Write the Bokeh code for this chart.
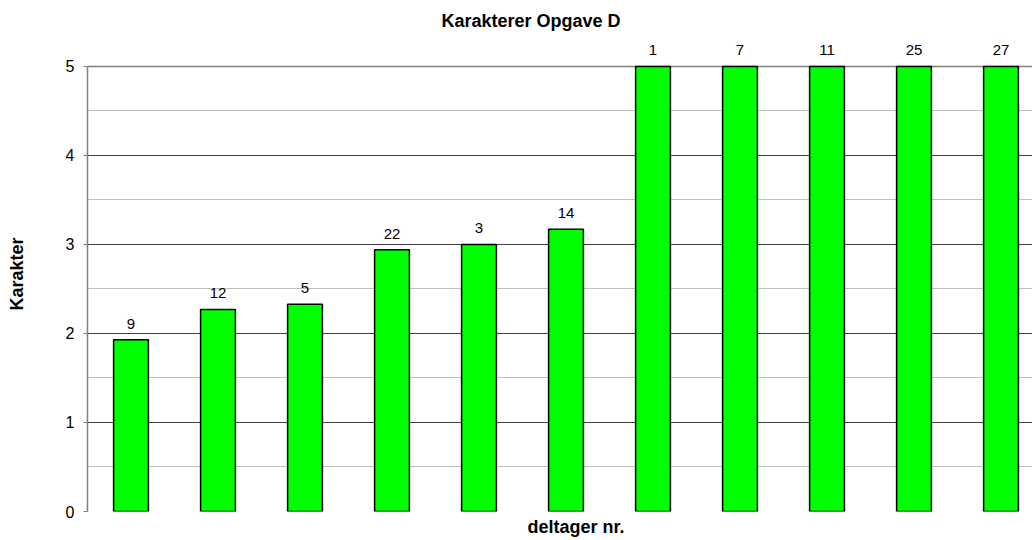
import numpy as np
from bokeh.plotting import figure
from bokeh.models import (ColumnDataSource, Range1d, FixedTicker, Grid, Title)
from bokeh.core.properties import value
from bokeh.embed import file_html
from bokeh.resources import INLINE

participants = ["9", "12", "5", "22", "3", "14", "1", "7", "11", "25", "27"]
grades = [1.93, 2.27, 2.33, 2.94, 3.0, 3.17, 5, 5, 5, 5, 5]
y_ticks = [0, 1, 2, 3, 4, 5]
y_minor = [0.5, 1.5, 2.5, 3.5, 4.5]

FONT = "Liberation Sans"

xpos = np.arange(len(participants)) + 0.5
src = ColumnDataSource(dict(x=xpos, y=grades, lab=participants))

p = figure(width=1032, height=540, output_backend="svg", toolbar_location=None,
           x_range=Range1d(0, 10.862), y_range=Range1d(0, 5.337),
           min_border_left=87, min_border_right=0, min_border_top=36,
           min_border_bottom=29, outline_line_color=None, title=None)

p.vbar(x="x", top="y", width=0.40, bottom=0, source=src,
       fill_color="#00FF00", line_color="black", line_width=1.5)

p.text(x="x", y="y", text="lab", source=src, y_offset=-16,
       text_align="center", text_baseline="alphabetic",
       text_font=value(FONT), text_font_size="15px", text_color="black")

# axes
p.xaxis.visible = False
p.xgrid.visible = False
yax = p.yaxis[0]
yax.bounds = (0, 5)
yax.ticker = FixedTicker(ticks=y_ticks, minor_ticks=y_minor)
yax.axis_line_color = "#808080"
yax.axis_line_width = 1.5
yax.major_tick_in = 0
yax.major_tick_out = 4
yax.major_tick_line_color = "#808080"
yax.minor_tick_in = 0
yax.minor_tick_out = 0
yax.major_label_text_font = FONT
yax.major_label_text_font_size = "16px"
yax.major_label_text_color = "black"
yax.major_label_standoff = 9
yax.axis_label = "Karakter"
yax.axis_label_text_font = FONT
yax.axis_label_text_font_style = "bold"
yax.axis_label_text_font_size = "18px"
yax.axis_label_text_color = "black"
yax.axis_label_standoff = 36

g = p.ygrid[0]
g.ticker = FixedTicker(ticks=[1, 2, 3, 4], minor_ticks=y_minor)
g.grid_line_color = "#404040"
g.grid_line_width = 1
g.minor_grid_line_color = "#C0C0C0"
g.minor_grid_line_width = 1
p.add_layout(Grid(dimension=1, ticker=FixedTicker(ticks=[0, 5]),
                  grid_line_color="#808080", grid_line_width=1.5))

p.add_layout(Title(text="deltager nr.", align="left", offset=440,
                   text_font=FONT, text_font_style="bold", text_font_size="18px",
                   text_color="black", standoff=6), "below")
p.add_layout(Title(text="Karakterer Opgave D", align="left", offset=354,
                   text_font=FONT, text_font_style="bold", text_font_size="18px",
                   text_color="black", vertical_align="top", standoff=7), "above")

open("out.html", "w").write(file_html(p, INLINE))
